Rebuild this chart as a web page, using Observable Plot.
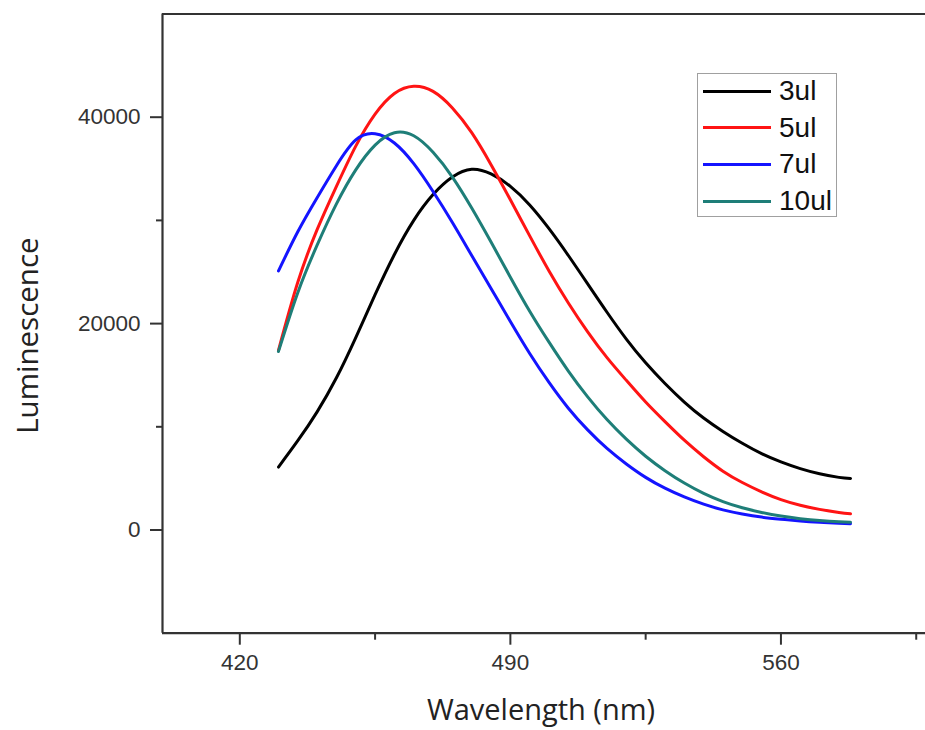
<!DOCTYPE html>
<html>
<head>
<meta charset="utf-8">
<script src="https://cdn.jsdelivr.net/npm/d3@7"></script>
<script src="https://cdn.jsdelivr.net/npm/@observablehq/plot@0.6"></script>
<style>
  html, body { margin: 0; padding: 0; background: #fff; }
  #wrap { position: relative; width: 925px; height: 730px; overflow: hidden; }
  #legend { position: absolute; left: 697px; top: 73px; width: 140px; height: 144px;
    border: 1.5px solid #a0a0a0; box-sizing: border-box; background: #fff;
    font-family: "Liberation Sans", Arial, sans-serif; font-size: 28px; color: #111; }
  .row { position: absolute; left: 0; height: 30px; display: flex; align-items: center; }
  .sw { width: 68px; height: 3px; margin-left: 5px; margin-right: 8px; }
</style>
</head>
<body>
<div id="wrap"></div>
<script>
// Wavelength (nm) sample positions shared by all series
const wavelength = [430,435,440,445,450,455,460,465,470,475,480,485,490,495,500,505,510,515,520,525,530,535,540,545,550,555,560,565,570,575,578];
// Luminescence values for each series
const lum3ul  = [6100,8650,11450,14750,18650,22800,26700,30000,32500,34200,34950,34500,33300,31500,29200,26600,23850,21100,18500,16200,14200,12400,10850,9550,8400,7400,6600,5950,5450,5100,5000];
const lum5ul  = [17400,24000,29100,33300,37200,40300,42300,43000,42500,40900,38500,35400,32000,28500,25100,22000,19200,16700,14500,12400,10500,8700,7100,5700,4600,3700,2950,2400,2000,1700,1570];
const lum7ul  = [25100,28900,32200,35300,37800,38400,37500,35500,32800,29800,26600,23400,20200,17100,14300,11800,9700,7900,6400,5100,4050,3200,2500,1950,1550,1250,1050,880,750,650,600];
const lum10ul = [17300,23000,27600,31600,34900,37300,38500,38200,36600,34200,31200,27900,24500,21200,18200,15400,12900,10700,8800,7150,5750,4550,3550,2750,2150,1700,1350,1100,920,800,760];

const seriesNames = ["3ul", "5ul", "7ul", "10ul"];
const seriesValues = [lum3ul, lum5ul, lum7ul, lum10ul];
const seriesColors = ["#000000", "#ff1414", "#1414ff", "#1e7e78"];

const xTicks = [420, 490, 560];
const xMinorTicks = [455, 525, 595];
const yTicks = [0, 20000, 40000];
const yMinorTicks = [10000, 30000];
const xTitle = "Wavelength (nm)";
const yTitle = "Luminescence";

const rows = seriesNames.flatMap((name, i) =>
  wavelength.map((w, j) => ({series: name, wavelength: w, value: seriesValues[i][j]})));

const axisColor = "#333";

const chart = Plot.plot({
  width: 925,
  height: 730,
  marginLeft: 162,
  marginRight: 0,
  marginTop: 13.5,
  marginBottom: 97.3,
  style: {fontFamily: "'Liberation Sans', Arial, sans-serif", fontSize: "22.5px", color: "#333", background: "#fff", overflow: "visible"},
  x: {domain: [400, 597.4]},
  y: {domain: [-10000, 50000]},
  color: {domain: seriesNames, range: seriesColors},
  marks: [
    Plot.axisX({ticks: xTicks, tickSize: 12, tickPadding: 9, tickFormat: d => String(d), label: null, strokeWidth: 2, stroke: axisColor}),
    Plot.axisX({ticks: xMinorTicks, tickSize: 7, tickFormat: () => "", label: null, strokeWidth: 2, stroke: axisColor}),
    Plot.axisY({ticks: yTicks, tickSize: 12, tickPadding: 10, tickFormat: d => String(d), label: null, strokeWidth: 2, stroke: axisColor}),
    Plot.axisY({ticks: yMinorTicks, tickSize: 6, tickFormat: () => "", label: null, strokeWidth: 2, stroke: axisColor}),
    Plot.ruleY([-10000], {stroke: axisColor, strokeWidth: 2.2}),
    Plot.ruleY([50000], {stroke: axisColor, strokeWidth: 2.2}),
    Plot.ruleX([400], {stroke: axisColor, strokeWidth: 2.2}),
    Plot.line(rows, {x: "wavelength", y: "value", z: "series", stroke: "series", strokeWidth: 3, curve: "natural"}),
    Plot.text([xTitle], {frameAnchor: "bottom", dx: -3, dy: 78, fontSize: 29, fontFamily: "'Open Sans', sans-serif", fill: "#222", lineAnchor: "middle", textAnchor: "middle"}),
    Plot.text([yTitle], {frameAnchor: "left", dx: -134, dy: 12, rotate: -90, fontSize: 29.5, fontFamily: "'Open Sans', sans-serif", fill: "#222", lineAnchor: "middle", textAnchor: "middle"})
  ]
});

const wrap = document.getElementById("wrap");
wrap.appendChild(chart);

// Legend (drawn from the same series names and colours)
const legend = document.createElement("div");
legend.id = "legend";
seriesNames.forEach((name, i) => {
  const row = document.createElement("div");
  row.className = "row";
  row.style.top = (2 + i * 36.7) + "px";
  const sw = document.createElement("div");
  sw.className = "sw";
  sw.style.background = seriesColors[i];
  const label = document.createElement("span");
  label.textContent = name;
  row.appendChild(sw);
  row.appendChild(label);
  legend.appendChild(row);
});
wrap.appendChild(legend);
</script>
</body>
</html>
